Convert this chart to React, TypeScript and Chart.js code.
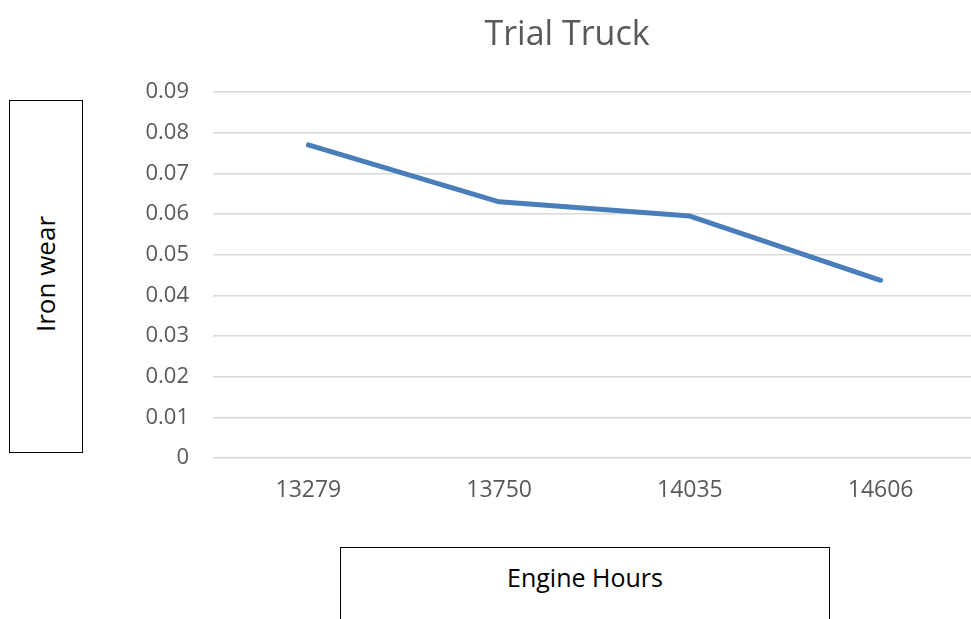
import React, { useEffect, useRef } from "react";
import { Chart, registerables } from "chart.js";

Chart.register(...registerables);

const chartTitle = "Trial Truck";
const xAxisTitle = "Engine Hours";
const yAxisTitle = "Iron wear";
const engineHours = ["13279", "13750", "14035", "14606"];
const ironWear = [0.077, 0.063, 0.0595, 0.0437];
const yMin = 0;
const yMax = 0.09;
const yStep = 0.01;

const FONT = "'Open Sans', 'DejaVu Sans', sans-serif";

export default function App() {
  const canvasRef = useRef<HTMLCanvasElement | null>(null);

  useEffect(() => {
    const canvas = canvasRef.current;
    if (!canvas) return;
    const chart = new Chart(canvas, {
      type: "line",
      data: {
        labels: engineHours,
        datasets: [
          {
            label: "Iron wear",
            data: ironWear,
            borderColor: "#4a7ebb",
            backgroundColor: "#4a7ebb",
            borderWidth: 5,
            pointRadius: 0,
            pointHoverRadius: 0,
            tension: 0,
            borderCapStyle: "round",
            borderJoinStyle: "round",
          },
        ],
      },
      options: {
        responsive: false,
        animation: false,
        layout: { padding: { left: 0, right: 0, top: 92, bottom: 0 } },
        plugins: {
          legend: { display: false },
          tooltip: { enabled: false },
          title: { display: false },
        },
        scales: {
          x: {
            type: "category",
            offset: true,
            grid: { display: false, drawTicks: false },
            border: { display: false },
            ticks: {
              color: "#595959",
              font: { family: FONT, size: 23 },
              padding: 19,
              maxRotation: 0,
            },
            afterFit: (s: any) => {
              s.height = 161;
            },
          },
          y: {
            min: yMin,
            max: yMax,
            grid: { color: "#d9d9d9", lineWidth: 1.5, drawTicks: false },
            border: { display: false },
            ticks: {
              stepSize: yStep,
              color: "#595959",
              font: { family: FONT, size: 22 },
              padding: 24,
              callback: (v: any) => Number(Number(v).toFixed(2)).toString(),
            },
            afterFit: (s: any) => {
              s.width = 213;
            },
          },
        },
      },
    });
    return () => chart.destroy();
  }, []);

  return (
    <div
      style={{
        position: "fixed",
        left: 0,
        top: 0,
        width: 971,
        height: 619,
        background: "#ffffff",
        overflow: "hidden",
      }}
    >
      <canvas
        ref={canvasRef}
        width={976}
        height={619}
        style={{ position: "absolute", left: 0, top: 0, width: 976, height: 619 }}
      />
      <div
        style={{
          position: "absolute",
          left: 367,
          top: 12,
          width: 400,
          textAlign: "center",
          fontFamily: FONT,
          fontSize: 34,
          lineHeight: "40px",
          color: "#595959",
          whiteSpace: "nowrap",
        }}
      >
        {chartTitle}
      </div>
      <div
        style={{
          position: "absolute",
          left: 9,
          top: 100,
          width: 74,
          height: 353,
          boxSizing: "border-box",
          border: "1px solid #000",
          display: "flex",
          alignItems: "center",
          justifyContent: "center",
          background: "#fff",
        }}
      >
        <span
          style={{
            display: "inline-block",
            transform: "rotate(-90deg)",
            whiteSpace: "nowrap",
            fontFamily: FONT,
            fontSize: 26,
            color: "#000",
            marginTop: -6,
            marginLeft: -2,
          }}
        >
          {yAxisTitle}
        </span>
      </div>
      <div
        style={{
          position: "absolute",
          left: 340,
          top: 547,
          width: 490,
          height: 90,
          boxSizing: "border-box",
          border: "1px solid #000",
          paddingTop: 14,
          textAlign: "center",
          fontFamily: FONT,
          fontSize: 25,
          lineHeight: "30px",
          color: "#000",
          background: "#fff",
        }}
      >
        {xAxisTitle}
      </div>
    </div>
  );
}
